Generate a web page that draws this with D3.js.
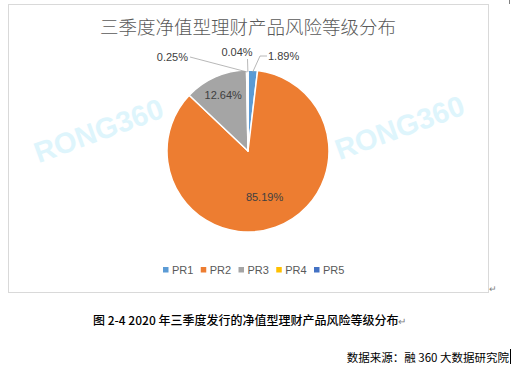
<!DOCTYPE html>
<html>
<head>
<meta charset="utf-8">
<script src="https://cdn.jsdelivr.net/npm/d3@7"></script>
<style>
  body { margin: 0; background: #fff; }
  svg { display: block; }
</style>
</head>
<body>
<div id="chart"></div>
<script>
var W = 512, H = 373;

// data
var categories = ["PR1", "PR2", "PR3", "PR4", "PR5"];
var values = [1.89, 85.19, 12.64, 0.25, 0.04];
var colors = ["#5B9BD5", "#ED7D31", "#A5A5A5", "#FFC000", "#4472C4"];
var title = "三季度净值型理财产品风险等级分布";
var caption = "图 2-4 2020 年三季度发行的净值型理财产品风险等级分布";
var source = "数据来源：融 360 大数据研究院";

var cx = 248, cy = 151, R = 81;
var numFont = "'Liberation Sans', Arial, sans-serif";
var cjkFont = "'Noto Sans CJK SC', sans-serif";

var svg = d3.select("#chart").append("svg")
    .attr("width", W)
    .attr("height", H);

// chart frame
svg.append("rect")
    .attr("x", 8.5).attr("y", 4.5)
    .attr("width", 480).attr("height", 288)
    .attr("fill", "#fff")
    .attr("stroke", "#d9d9d9");

// watermarks
[[102, 140], [403, 137]].forEach(function (p) {
    svg.append("text")
        .attr("transform", "translate(" + p[0] + "," + p[1] + ") rotate(-20)")
        .attr("text-anchor", "middle")
        .attr("font-family", "'Liberation Sans', Arial, sans-serif")
        .attr("font-weight", "bold")
        .attr("font-size", 29)
        .attr("fill", "#def5fc")
        .text("RONG360");
});

// title
svg.append("text")
    .attr("x", 248).attr("y", 34)
    .attr("text-anchor", "middle")
    .attr("font-family", cjkFont)
    .attr("font-weight", 300)
    .attr("font-size", 18.5)
    .attr("fill", "#595959")
    .text(title);

var pie = d3.pie().sort(null).value(function (d) { return d; });
var arcs = pie(values);
var arc = d3.arc().innerRadius(0).outerRadius(R);

var g = svg.append("g").attr("transform", "translate(" + cx + "," + cy + ")");

g.selectAll("path.slice")
    .data(arcs)
    .enter().append("path")
    .attr("class", "slice")
    .attr("d", arc)
    .attr("fill", function (d, i) { return colors[i]; })
    .attr("stroke", "#fff")
    .attr("stroke-width", 1.5)
    .attr("stroke-linejoin", "round");

// labels: inside for big slices, outside with leader lines for small ones
var labelLayout = [
    { out: true, tx: 20, ty: -95, anchor: "start", elbow: [12, -95] },
    { out: false, r: 0.6 },
    { out: false, r: 0.76 },
    { out: true, tx: -60, ty: -94, anchor: "end", elbow: [-58, -94] },
    { out: true, tx: -11, ty: -99, anchor: "middle", elbow: [-0.5, -92] }
];

function fmt(v) { return v.toFixed(2) + "%"; }

arcs.forEach(function (d, i) {
    var L = labelLayout[i];
    var a = (d.startAngle + d.endAngle) / 2;
    if (L.out) {
        var px = Math.sin(a) * (R - 2), py = -Math.cos(a) * (R - 2);
        var pts = [[px, py], L.elbow];
        if (i === 0) pts.push([L.tx - 1, L.ty]);
        g.append("path")
            .attr("d", d3.line()(pts))
            .attr("fill", "none")
            .attr("stroke", "#a6a6a6")
            .attr("stroke-width", 0.8);
        g.append("text")
            .attr("x", L.tx).attr("y", L.ty + 4)
            .attr("text-anchor", L.anchor)
            .attr("font-family", numFont)
            .attr("font-size", 11)
            .attr("fill", "#404040")
            .text(fmt(values[i]));
    } else {
        var rr = R * L.r;
        g.append("text")
            .attr("x", Math.sin(a) * rr).attr("y", -Math.cos(a) * rr + 4)
            .attr("text-anchor", "middle")
            .attr("font-family", numFont)
            .attr("font-size", 11)
            .attr("fill", "#404040")
            .text(fmt(values[i]));
    }
});

// legend
var lx = d3.scalePoint().domain(categories).range([163, 314]);
var leg = svg.append("g").selectAll("g")
    .data(categories)
    .enter().append("g")
    .attr("transform", function (d) { return "translate(" + lx(d) + ",270)"; });
leg.append("rect")
    .attr("x", 0).attr("y", -3)
    .attr("width", 5.5).attr("height", 5.5)
    .attr("fill", function (d, i) { return colors[i]; });
leg.append("text")
    .attr("x", 9).attr("y", 4)
    .attr("font-family", numFont)
    .attr("font-size", 11)
    .attr("fill", "#595959")
    .text(function (d) { return d; });

// return marks
svg.append("text")
    .attr("x", 489).attr("y", 292)
    .attr("font-family", numFont).attr("font-size", 9)
    .attr("fill", "#808080").text("↵");
svg.append("rect")
    .attr("x", 509).attr("y", 0).attr("width", 1).attr("height", 4)
    .attr("fill", "#808080");

// caption
var cap = svg.append("text")
    .attr("x", 93).attr("y", 325)
    .attr("font-family", cjkFont)
    .attr("font-weight", 500)
    .attr("font-size", 12)
    .attr("fill", "#000");
cap.append("tspan").text(caption);
cap.append("tspan").attr("fill", "#808080").attr("font-size", 10).text("↵");

svg.append("text")
    .attr("x", 509).attr("y", 362)
    .attr("text-anchor", "end")
    .attr("font-family", cjkFont)
    .attr("font-size", 11.5)
    .attr("fill", "#000")
    .text(source);
svg.append("rect")
    .attr("x", 510).attr("y", 349).attr("width", 1).attr("height", 15)
    .attr("fill", "#000");
</script>
</body>
</html>
